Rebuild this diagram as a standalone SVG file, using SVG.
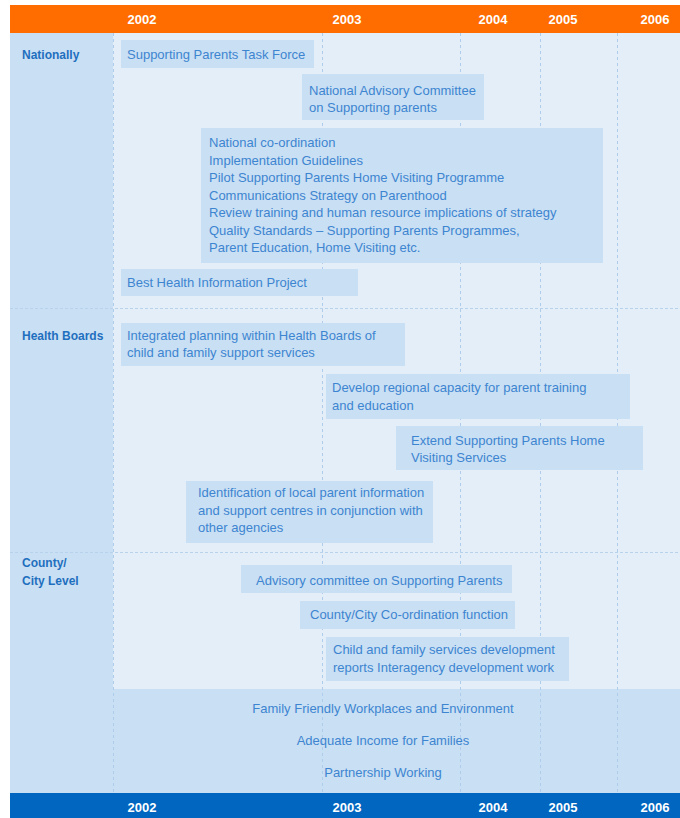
<svg xmlns="http://www.w3.org/2000/svg" width="680" height="818" viewBox="0 0 680 818">
<style>
.box{fill:#c9dff3}
.t{font-family:"Liberation Sans",Arial,sans-serif;font-size:13px;fill:#3d85d1}
.lbl{font-family:"Liberation Sans",Arial,sans-serif;font-size:12px;font-weight:bold;fill:#1f6fbf}
.yr{font-family:"Liberation Sans",Arial,sans-serif;font-size:13px;font-weight:bold;fill:#ffffff;text-anchor:middle}
.vl{stroke:#b0cceb;stroke-width:1;stroke-dasharray:3,3}
.hl{stroke:#b8d2ec;stroke-width:1;stroke-dasharray:3,2}
</style>
<rect x="0" y="0" width="680" height="818" fill="#ffffff"/>
<rect x="10" y="33" width="670" height="760" fill="#e4eef8"/>
<rect x="10" y="33" width="103" height="760" fill="#c9dff3"/>
<rect x="113" y="689" width="567" height="104" fill="#c9dff3"/>
<g id="grid">
<line class="vl" x1="113.5" y1="33" x2="113.5" y2="793"/>
<line class="vl" x1="322.5" y1="33" x2="322.5" y2="793"/>
<line class="vl" x1="460.5" y1="33" x2="460.5" y2="793"/>
<line class="vl" x1="540.5" y1="33" x2="540.5" y2="793"/>
<line class="vl" x1="617.5" y1="33" x2="617.5" y2="793"/>
<line class="hl" x1="10" y1="308.5" x2="680" y2="308.5"/>
<line class="hl" x1="10" y1="552.5" x2="680" y2="552.5"/>
</g>
<g id="header">
<rect x="10" y="5" width="670" height="28" fill="#ff6d00"/>
<text class="yr" x="142" y="24">2002</text>
<text class="yr" x="347" y="24">2003</text>
<text class="yr" x="493" y="24">2004</text>
<text class="yr" x="563" y="24">2005</text>
<text class="yr" x="655" y="24">2006</text>
</g>
<g id="footer">
<rect x="10" y="793" width="670" height="25" fill="#0066c0"/>
<text class="yr" x="142" y="812">2002</text>
<text class="yr" x="347" y="812">2003</text>
<text class="yr" x="493" y="812">2004</text>
<text class="yr" x="563" y="812">2005</text>
<text class="yr" x="655" y="812">2006</text>
</g>
<g id="labels">
<text class="lbl" x="22" y="59">Nationally</text>
<text class="lbl" x="22" y="340">Health Boards</text>
<text class="lbl" x="22" y="567">County/</text>
<text class="lbl" x="22" y="585">City Level</text>
</g>
<g id="n1"><rect class="box" x="121" y="40" width="193" height="28"/><text class="t" x="127" y="59">Supporting Parents Task Force</text></g>
<g id="n2"><rect class="box" x="302" y="74" width="182" height="46"/><text class="t" x="309" y="95">National Advisory Committee</text><text class="t" x="309" y="112">on Supporting parents</text></g>
<g id="n3"><rect class="box" x="201" y="128" width="402" height="135"/>
<text class="t" x="209" y="147">National co-ordination</text>
<text class="t" x="209" y="165">Implementation Guidelines</text>
<text class="t" x="209" y="182">Pilot Supporting Parents Home Visiting Programme</text>
<text class="t" x="209" y="200">Communications Strategy on Parenthood</text>
<text class="t" x="209" y="217">Review training and human resource implications of strategy</text>
<text class="t" x="209" y="235">Quality Standards – Supporting Parents Programmes,</text>
<text class="t" x="209" y="252">Parent Education, Home Visiting etc.</text></g>
<g id="n4"><rect class="box" x="121" y="269" width="237" height="27"/><text class="t" x="127" y="287">Best Health Information Project</text></g>
<g id="n5"><rect class="box" x="121" y="323" width="284" height="43"/><text class="t" x="127" y="340">Integrated planning within Health Boards of</text><text class="t" x="127" y="357">child and family support services</text></g>
<g id="n6"><rect class="box" x="326" y="374" width="304" height="45"/><text class="t" x="332" y="392">Develop regional capacity for parent training</text><text class="t" x="332" y="410">and education</text></g>
<g id="n7"><rect class="box" x="396" y="426" width="247" height="44"/><text class="t" x="411" y="445">Extend Supporting Parents Home</text><text class="t" x="411" y="462">Visiting Services</text></g>
<g id="n8"><rect class="box" x="186" y="481" width="247" height="62"/><text class="t" x="198" y="497">Identification of local parent information</text><text class="t" x="198" y="515">and support centres in conjunction with</text><text class="t" x="198" y="532">other agencies</text></g>
<g id="n9"><rect class="box" x="241" y="565" width="271" height="28"/><text class="t" x="256" y="585">Advisory committee on Supporting Parents</text></g>
<g id="n10"><rect class="box" x="300" y="601" width="215" height="28"/><text class="t" x="310" y="619">County/City Co-ordination function</text></g>
<g id="n11"><rect class="box" x="326" y="637" width="243" height="44"/><text class="t" x="333" y="654">Child and family services development</text><text class="t" x="333" y="672">reports Interagency development work</text></g>
<g id="band">
<text class="t" x="383" y="713" text-anchor="middle">Family Friendly Workplaces and Environment</text>
<text class="t" x="383" y="745" text-anchor="middle">Adequate Income for Families</text>
<text class="t" x="383" y="777" text-anchor="middle">Partnership Working</text>
</g>
</svg>
